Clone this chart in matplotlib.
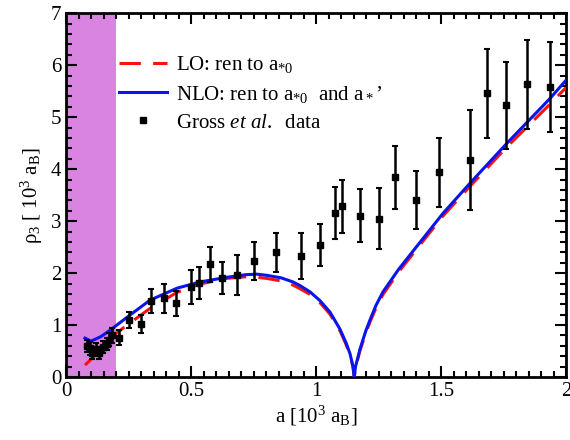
import matplotlib
matplotlib.use("Agg")
import matplotlib.pyplot as plt
from matplotlib.ticker import MultipleLocator
from matplotlib.lines import Line2D

plt.rcParams['font.family'] = ['Liberation Serif', 'DejaVu Serif']
plt.rcParams['mathtext.fontset'] = 'custom'
plt.rcParams['mathtext.rm'] = 'Liberation Serif'
plt.rcParams['mathtext.it'] = 'Liberation Serif:italic'
plt.rcParams['mathtext.bf'] = 'Liberation Serif:bold'

# Gross et al. data
data_a = [0.082, 0.095, 0.105, 0.118, 0.13, 0.148, 0.162, 0.172, 0.183, 0.212,
          0.25, 0.30, 0.34, 0.39, 0.44, 0.50, 0.53, 0.576, 0.625, 0.685,
          0.75, 0.84, 0.94, 1.016, 1.076, 1.105, 1.175, 1.25, 1.315, 1.40,
          1.49, 1.615, 1.685, 1.76, 1.845, 1.935]
data_rho = [0.60, 0.55, 0.46, 0.54, 0.46, 0.58, 0.64, 0.72, 0.80, 0.76,
            1.10, 1.02, 1.46, 1.52, 1.42, 1.73, 1.81, 2.17, 1.90, 1.96,
            2.23, 2.40, 2.33, 2.54, 3.15, 3.29, 3.10, 3.05, 3.84, 3.40,
            3.94, 4.17, 5.46, 5.23, 5.63, 5.58]
data_err = [0.12, 0.12, 0.12, 0.12, 0.12, 0.12, 0.12, 0.12, 0.14, 0.14,
            0.16, 0.17, 0.23, 0.28, 0.24, 0.33, 0.31, 0.34, 0.31, 0.38,
            0.36, 0.37, 0.45, 0.40, 0.50, 0.51, 0.51, 0.58, 0.60, 0.56,
            0.66, 0.96, 0.86, 0.84, 0.85, 0.87]

# NLO curve (blue, solid)
nlo_a = [0.076, 0.10, 0.14, 0.176, 0.244, 0.336, 0.444, 0.536, 0.644, 0.72,
         0.764, 0.80, 0.86, 0.908, 0.936, 0.976, 1.016, 1.056, 1.096, 1.12,
         1.136, 1.148, 1.153, 1.158, 1.176, 1.20, 1.216, 1.24, 1.268, 1.33,
         1.404, 1.508, 1.616, 1.764, 1.936, 2.0]
nlo_rho = [0.75, 0.69, 0.78, 0.90, 1.15, 1.48, 1.71, 1.83, 1.92, 1.97,
           1.98, 1.96, 1.91, 1.83, 1.76, 1.64, 1.47, 1.25, 0.92, 0.66,
           0.45, 0.20, 0.0, 0.20, 0.54, 0.90, 1.10, 1.38, 1.64, 2.07,
           2.52, 3.15, 3.73, 4.50, 5.36, 5.71]

# LO curve (red, dashed)
lo_a = [0.076, 0.108, 0.176, 0.244, 0.336, 0.444, 0.536, 0.644, 0.72, 0.764,
        0.80, 0.86, 0.908, 0.936, 0.976, 1.016, 1.056, 1.096, 1.12, 1.136,
        1.148, 1.153, 1.158, 1.176, 1.20, 1.216, 1.24, 1.268, 1.33, 1.404,
        1.508, 1.616, 1.764, 1.936, 2.0]
lo_rho = [0.23, 0.38, 0.75, 1.00, 1.32, 1.63, 1.79, 1.90, 1.93, 1.92,
          1.90, 1.85, 1.77, 1.70, 1.59, 1.43, 1.21, 0.89, 0.63, 0.43,
          0.19, 0.0, 0.18, 0.51, 0.86, 1.06, 1.33, 1.59, 2.02, 2.47,
          3.10, 3.67, 4.43, 5.25, 5.57]

shade_range = (0.0, 0.2)

fig = plt.figure(figsize=(5.7, 4.4), dpi=100)
ax = fig.add_axes([0.1158, 0.143, 0.8772, 0.827])

ax.axvspan(shade_range[0], shade_range[1], facecolor='#d884e0', edgecolor='none', zorder=0)

ax.plot(lo_a, lo_rho, color='#ff1010', lw=2.2, dashes=(7, 4), zorder=3)
ax.plot(nlo_a, nlo_rho, color='#0a14ee', lw=2.2, zorder=4)
ax.errorbar(data_a, data_rho, yerr=data_err, fmt='s', color='black', ms=4,
            elinewidth=1.8, capsize=2.5, capthick=1.5, zorder=5)

ax.set_xlim(0, 2)
ax.set_ylim(0, 7)
ax.xaxis.set_major_locator(MultipleLocator(0.5))
ax.xaxis.set_minor_locator(MultipleLocator(0.05))
ax.yaxis.set_major_locator(MultipleLocator(1))
ax.yaxis.set_minor_locator(MultipleLocator(0.2))
ax.set_xticks([0, 0.5, 1, 1.5, 2])
ax.set_xticklabels(['0', '0.5', '1', '1.5', '2'])
ax.tick_params(which='both', direction='in', top=True, right=True, labelsize=15, width=1.5)
ax.tick_params(which='major', length=8)
ax.tick_params(which='minor', length=4)
for s in ax.spines.values():
    s.set_linewidth(2)

ax.set_xlabel(r'a [10$^3$ a$_\mathrm{B}$]', fontsize=15, labelpad=2)
ax.set_ylabel(r'ρ$_3$ [ 10$^3$ a$_\mathrm{B}$]', fontsize=15, labelpad=4)

handles = [
    Line2D([], [], color='#ff1010', lw=2.2, dashes=(7, 4)),
    Line2D([], [], color='#0a14ee', lw=2.2),
    Line2D([], [], ls='none', marker='s', ms=4, color='black'),
]
labels = [r'LO: ren to a$_{*0}$',
          r'NLO: ren to a$_{*0}$  and a$_*$’',
          r'Gross $et\ al.$  data']
ax.legend(handles, labels, loc='upper left', bbox_to_anchor=(0.09, 0.91),
          frameon=False, fontsize=15, handlelength=2.3, handletextpad=0.4,
          labelspacing=0.4, borderaxespad=0)

fig.savefig('out.png', dpi=100)
